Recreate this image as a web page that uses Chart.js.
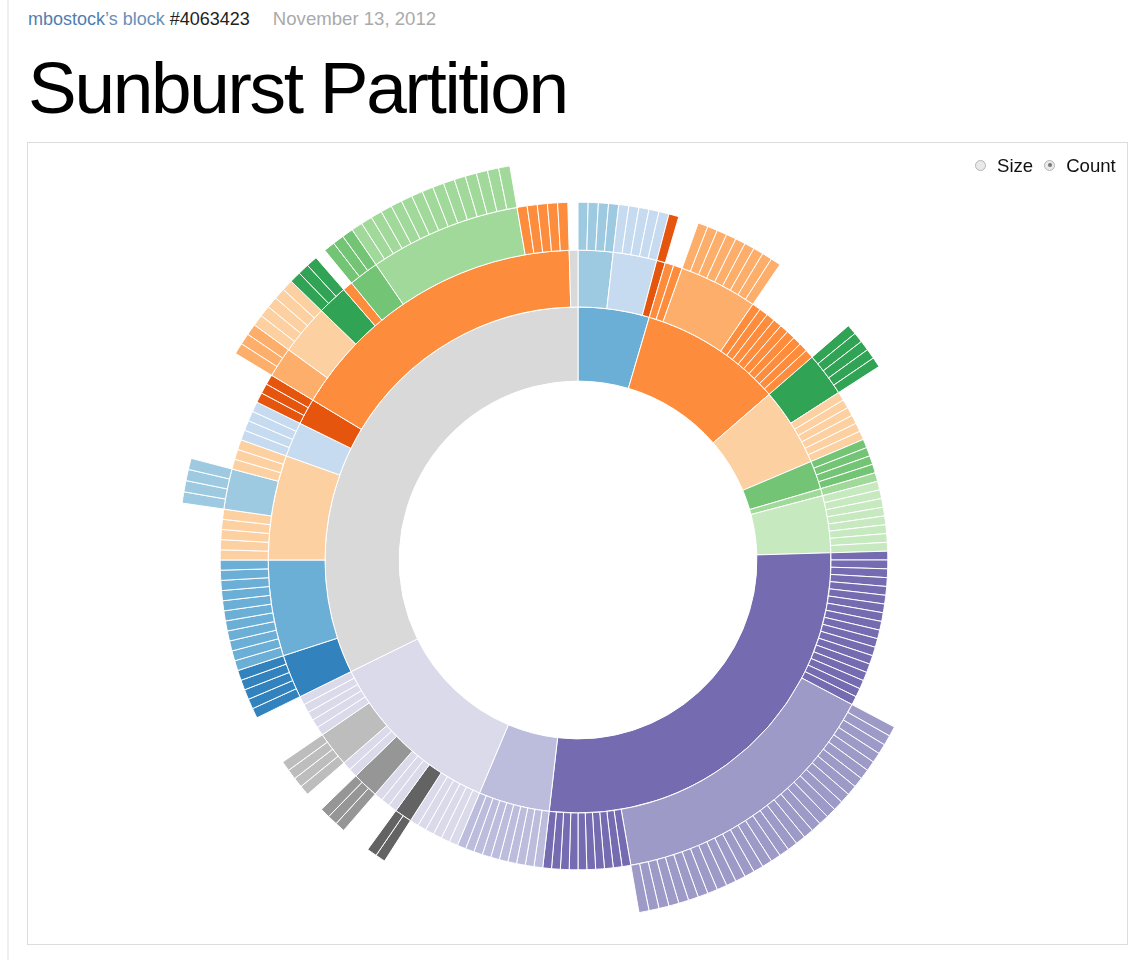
<!DOCTYPE html>
<html>
<head>
<meta charset="utf-8">
<script src="https://cdn.jsdelivr.net/npm/chart.js@4.4.0/dist/chart.umd.min.js"></script>
<style>
  body { margin:0; background:#fff; font-family:"Liberation Sans", Arial, Helvetica, sans-serif; }
  #page { position:relative; width:1145px; height:960px; overflow:hidden; background:#fff; }
  #rule { position:absolute; left:7px; top:0; width:2px; height:960px; background:#efefef; }
  #hdr { position:absolute; left:28px; top:8px; font-size:18px; line-height:22px; white-space:nowrap; color:#6a8fb5; }
  #hdr .who { color:#4f7eb0; }
  #hdr .id { color:#222; }
  #hdr .date { color:#aaa; margin-left:23px; font-size:18.6px; }
  h1 { position:absolute; left:28px; top:51px; margin:0; font-size:73px; line-height:73px; font-weight:400; letter-spacing:-2.3px; color:#000; white-space:nowrap; }
  #frame { position:absolute; left:27px; top:142px; width:1099px; height:801px; border:1px solid #dcdcdc; box-sizing:content-box; }
  #chartbox { position:absolute; left:178px; top:160px; width:800px; height:800px; }
  #legend { position:absolute; left:975px; top:155px; font-size:18.6px; line-height:22px; color:#111; white-space:nowrap; }
  .radio { display:inline-block; width:9px; height:9px; border:1px solid #b5b5b5; border-radius:50%; background:#e9e9e9; vertical-align:middle; position:relative; top:-2px; margin-right:11px; }
  .radio.on::after { content:""; position:absolute; left:2.5px; top:2.5px; width:4px; height:4px; border-radius:50%; background:#777; }
  .lab { margin-right:11px; }
</style>
</head>
<body>
<div id="page">
  <div id="rule"></div>
  <div id="hdr"><span class="who">mbostock</span>’s block <span class="id">#4063423</span><span class="date">November 13, 2012</span></div>
  <h1>Sunburst Partition</h1>
  <div id="frame"></div>
  <div id="chartbox"><canvas id="c" width="800" height="800"></canvas></div>
  <div id="legend"><span class="radio"></span><span class="lab">Size</span><span class="radio on"></span><span>Count</span></div>
</div>
<script>
// ---- Data: flare class hierarchy (each leaf counts 1, "Count" mode) ----
const topPackages = ['analytics','animate','data','display','flex','physics','query','scale','util','vis'];

const analyticsLeaves = ['cluster/AgglomerativeCluster','cluster/CommunityStructure','cluster/HierarchicalCluster','cluster/MergeEdge',
  'graph/BetweennessCentrality','graph/LinkDistance','graph/MaxFlowMinCut','graph/ShortestPaths','graph/SpanningTree',
  'optimization/AspectRatioBanker'];

const animateLeaves = ['Easing','FunctionSequence',
  'interpolate/ArrayInterpolator','interpolate/ColorInterpolator','interpolate/DateInterpolator','interpolate/Interpolator',
  'interpolate/MatrixInterpolator','interpolate/NumberInterpolator','interpolate/ObjectInterpolator','interpolate/PointInterpolator',
  'interpolate/RectangleInterpolator',
  'ISchedulable','Parallel','Pause','Scheduler','Sequence','Transition','Transitioner','TransitionEvent','Tween'];

const dataLeaves = ['converters/Converters','converters/DelimitedTextConverter','converters/GraphMLConverter','converters/IDataConverter',
  'converters/JSONConverter','DataField','DataSchema','DataSet','DataSource','DataTable','DataUtil'];

const displayLeaves = ['DirtySprite','LineSprite','RectSprite','TextSprite'];

const flexLeaves = ['FlareVis'];

const physicsLeaves = ['DragForce','GravityForce','IForce','NBodyForce','Particle','Simulation','Spring','SpringForce'];

const queryLeaves = ['AggregateExpression','And','Arithmetic','Average','BinaryExpression','Comparison','CompositeExpression','Count',
  'DateUtil','Distinct','Expression','ExpressionIterator','Fn','If','IsA','Literal','Match','Maximum',
  'methods/add','methods/and','methods/average','methods/count','methods/distinct','methods/div','methods/eq','methods/fn',
  'methods/gt','methods/gte','methods/iff','methods/isa','methods/lt','methods/lte','methods/max','methods/min','methods/mod',
  'methods/mul','methods/neq','methods/not','methods/or','methods/orderby','methods/range','methods/select','methods/stddev',
  'methods/sub','methods/sum','methods/update','methods/variance','methods/where','methods/xor','methods/_',
  'Minimum','Not','Or','Query','Range','StringUtil','Sum','Variable','Variance','Xor'];

const scaleLeaves = ['IScaleMap','LinearScale','LogScale','OrdinalScale','QuantileScale','QuantitativeScale','RootScale','Scale','ScaleType','TimeScale'];

const utilLeaves = ['Arrays','Colors','Dates','Displays','Filter','Geometry','heap/FibonacciHeap','heap/HeapNode',
  'IEvaluable','IPredicate','IValueProxy','math/DenseMatrix','math/IMatrix','math/SparseMatrix','Maths','Orientation',
  'palette/ColorPalette','palette/Palette','palette/ShapePalette','palette/SizePalette','Property','Shapes','Sort','Stats','Strings'];

const visLeaves = ['axis/Axes','axis/Axis','axis/AxisGridLine','axis/AxisLabel','axis/CartesianAxes',
  'controls/AnchorControl','controls/ClickControl','controls/Control','controls/ControlList','controls/DragControl',
  'controls/ExpandControl','controls/HoverControl','controls/IControl','controls/PanZoomControl','controls/SelectionControl','controls/TooltipControl',
  'data/Data','data/DataList','data/DataSprite','data/EdgeSprite','data/NodeSprite',
  'data/render/ArrowType','data/render/EdgeRenderer','data/render/IRenderer','data/render/ShapeRenderer',
  'data/ScaleBinding','data/Tree','data/TreeBuilder',
  'events/DataEvent','events/SelectionEvent','events/TooltipEvent','events/VisualizationEvent',
  'legend/Legend','legend/LegendItem','legend/LegendRange',
  'operator/distortion/BifocalDistortion','operator/distortion/Distortion','operator/distortion/FisheyeDistortion',
  'operator/encoder/ColorEncoder','operator/encoder/Encoder','operator/encoder/PropertyEncoder','operator/encoder/ShapeEncoder','operator/encoder/SizeEncoder',
  'operator/filter/FisheyeTreeFilter','operator/filter/GraphDistanceFilter','operator/filter/VisibilityFilter',
  'operator/IOperator',
  'operator/label/Labeler','operator/label/RadialLabeler','operator/label/StackedAreaLabeler',
  'operator/layout/AxisLayout','operator/layout/BundledEdgeRouter','operator/layout/CircleLayout','operator/layout/CirclePackingLayout',
  'operator/layout/DendrogramLayout','operator/layout/ForceDirectedLayout','operator/layout/IcicleTreeLayout','operator/layout/IndentedTreeLayout',
  'operator/layout/Layout','operator/layout/NodeLinkTreeLayout','operator/layout/PieLayout','operator/layout/RadialTreeLayout',
  'operator/layout/RandomLayout','operator/layout/StackedAreaLayout','operator/layout/TreeMapLayout',
  'operator/Operator','operator/OperatorList','operator/OperatorSequence','operator/OperatorSwitch','operator/SortOperator',
  'Visualization'];

const packageLeaves = [analyticsLeaves, animateLeaves, dataLeaves, displayLeaves, flexLeaves,
  physicsLeaves, queryLeaves, scaleLeaves, utilLeaves, visLeaves];

// ---- Styles ----
const category20c = ['#3182bd','#6baed6','#9ecae1','#c6dbef','#e6550d','#fd8d3c','#fdae6b','#fdd0a2',
  '#31a354','#74c476','#a1d99b','#c7e9c0','#756bb1','#9e9ac8','#bcbddc','#dadaeb',
  '#636363','#969696','#bdbdbd','#d9d9d9'];

// ordinal colour scale, assigned in the order names are first met (like d3)
const colorDomain = [];
function color(name) {
  let i = colorDomain.indexOf(name);
  if (i < 0) { colorDomain.push(name); i = colorDomain.length - 1; }
  return category20c[i % category20c.length];
}

const paths = [];
topPackages.forEach((p, i) => packageLeaves[i].forEach(l => paths.push(p + '/' + l)));

// pre-order colour assignment
color('flare');
paths.forEach(path => {
  const parts = path.split('/');
  for (let k = 1; k < parts.length; k++) color(parts[k - 1]);
});

// build one ring per depth
function buildRing(depth) {
  const segs = [];
  paths.forEach(path => {
    const parts = path.split('/');
    const L = parts.length;
    let key, kind;
    if (L < depth) { key = '__gap'; kind = 'gap'; }
    else if (L === depth) { key = path; kind = 'leaf'; }
    else { key = parts.slice(0, depth).join('/'); kind = 'node'; }
    const last = segs[segs.length - 1];
    if (last && last.key === key && kind !== 'leaf') { last.count += 1; return; }
    let fill;
    if (kind === 'gap') fill = 'rgba(0,0,0,0)';
    else if (kind === 'leaf') fill = color(depth >= 2 ? parts[depth - 2] : 'flare');
    else fill = color(parts[depth - 1]);
    segs.push({ key, kind, count: 1, fill, label: kind === 'gap' ? '' : parts[depth - 1] });
  });
  return segs;
}

const ringDepths = [4, 3, 2, 1];              // outermost dataset first
const ringWeights = [42.2, 48.0, 56.8, 74.1]; // sqrt-scaled band thicknesses

const rings = ringDepths.map(buildRing);
const datasets = rings.map((segs, i) => ({
  label: 'depth ' + ringDepths[i],
  data: segs.map(s => s.count),
  backgroundColor: segs.map(s => s.fill),
  borderColor: '#ffffff',
  borderWidth: segs.map(s => s.kind === 'gap' ? 0 : 1),
  hoverBorderWidth: segs.map(s => s.kind === 'gap' ? 0 : 1),
  hoverBackgroundColor: segs.map(s => s.fill),
  weight: ringWeights[i]
}));

new Chart(document.getElementById('c'), {
  type: 'doughnut',
  data: { labels: rings[0].map(s => s.label), datasets },
  options: {
    responsive: false,
    devicePixelRatio: 1,
    animation: false,
    events: [],
    radius: 400,
    cutout: '44.72%',
    rotation: 0,
    circumference: 360,
    layout: { padding: 0 },
    plugins: { legend: { display: false }, tooltip: { enabled: false }, title: { display: false } }
  }
});
</script>
</body>
</html>
